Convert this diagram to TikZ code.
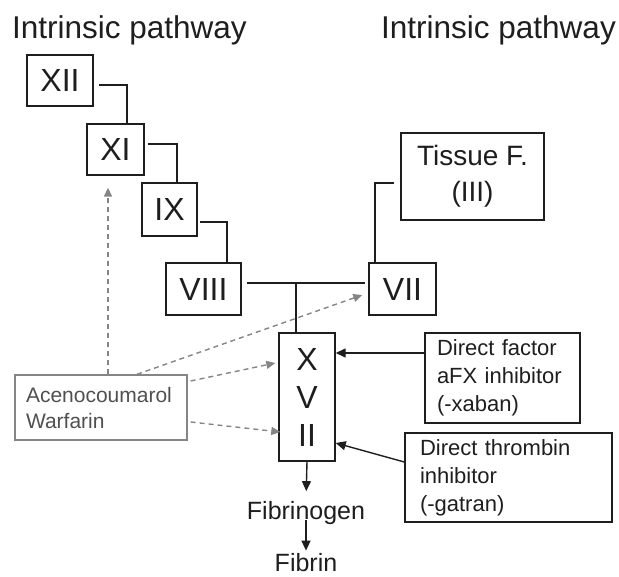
\documentclass[tikz,border=0pt]{standalone}
\usepackage{fontspec}
\setmainfont{Liberation Sans}
\usetikzlibrary{arrows.meta,calc}
\definecolor{ln}{HTML}{1E1E1E}
\definecolor{dg}{HTML}{858585}
\definecolor{tg}{HTML}{505050}
\begin{document}
\begin{tikzpicture}[x=1pt,y=-1pt,
  box/.style={draw=ln,line width=1.4pt,inner sep=0pt,align=center,text=ln},
  num/.style={box,font=\fontsize{32}{38}\selectfont},
  info/.style={draw=ln,line width=1.4pt,align=left,text=ln,font=\fontsize{22}{28}\selectfont,inner ysep=0pt},
  title/.style={anchor=west,inner sep=0pt,text=ln,font=\fontsize{31.5}{36}\selectfont},
  lbl/.style={inner sep=1pt,text=ln,font=\fontsize{25}{30}\selectfont},
  link/.style={draw=ln,line width=1.4pt},
  arr/.style={link,-{Triangle[length=10pt,width=9pt]}},
  darr/.style={draw=dg,line width=1.4pt,dash pattern=on 5pt off 4pt,-{Triangle[length=9pt,width=8pt]}},
]
\useasboundingbox (0,0) rectangle (619,577);

\node[title] (t1) at (12,30.5) {Intrinsic pathway};
\node[title] (t2) at (381,30.5) {Intrinsic pathway};

\node[num,minimum width=66,minimum height=51] (XII) at (60,80.5) {XII};
\node[num,minimum width=57,minimum height=51] (XI) at (115.5,149.5) {XI};
\node[num,minimum width=55,minimum height=53] (IX) at (169.5,209.5) {IX};
\node[num,minimum width=75,minimum height=52] (VIII) at (203.5,289) {VIII};
\node[num,minimum width=67,minimum height=52] (VII) at (402.5,289) {VII};
\node[box,minimum width=143,minimum height=87,font=\fontsize{28}{36}\selectfont] (tis) at (472.5,176.5) {Tissue F.\\(III)};
\node[box,minimum width=56,minimum height=128,font=\fontsize{32}{38}\selectfont] (XVII) at (307,397) {X\\V\\II};

\node[info,text width=131,inner xsep=12,minimum height=90] (dfx) at (502.5,378) {Direct factor\\aFX inhibitor\\(-xaban)};
\node[info,text width=177,inner xsep=15,minimum height=89] (dti) at (508.5,477.5) {Direct thrombin\\inhibitor\\(-gatran)};
\node[draw=dg,line width=1.4pt,align=left,text=tg,font=\fontsize{21}{26}\selectfont,inner ysep=0pt,text width=150,inner xsep=11,minimum height=65] (ace) at (101,407.5) {Acenocoumarol\\Warfarin};

\node[lbl] (fgn) at (306,513) {Fibrinogen};
\node[lbl] (fib) at (306,563) {Fibrin};

% cascade connectors
\draw[link] ($(XII.east)+(5,4.5)$) -| ($(XI.north)+(11.5,0)$);
\draw[link] ($(XI.east)+(3,-5.5)$) -| ($(IX.north)+(7.5,0)$);
\draw[link] ($(IX.east)+(2,12.5)$) -| ($(VIII.north)+(23.5,0)$);
\draw[link] ($(VIII.east)+(5,-6)$) -- ($(VII.west)+(-3,-6)$);
\coordinate (jn) at ($(XVII.north)+(-11,-50)$);
\draw[link] (jn) -- (XVII.north -| jn);
\draw[link] ($(tis.west)+(-6,6.5)$) -| ($(VII.north)+(-27.5,0)$);

% solid arrows
\draw[arr] ($(dfx.west)+(0,-25)$) -- ($(XVII.east)+(0,-44)$);
\draw[arr] ($(dti.west)+(0,-15.5)$) -- ($(XVII.east)+(0,46)$);
\draw[arr,shorten >=9pt] (XVII.south) -- (fgn.north);
\draw[arr,shorten <=-6pt,shorten >=2pt] (fgn.south) -- (fib.north);

% dashed arrows
\draw[darr] ($(ace.north)+(7,0)$) -- ($(XI.south)+(-7.5,12)$);
\draw[darr] ($(ace.north)+(36,0)$) -- ($(VII.west)+(-6,6)$);
\draw[darr] ($(ace.east)+(3,-26.5)$) -- ($(XVII.west)+(-3,-34)$);
\draw[darr] ($(ace.east)+(3,14.5)$) -- ($(XVII.west)+(2,35)$);
\end{tikzpicture}
\end{document}
